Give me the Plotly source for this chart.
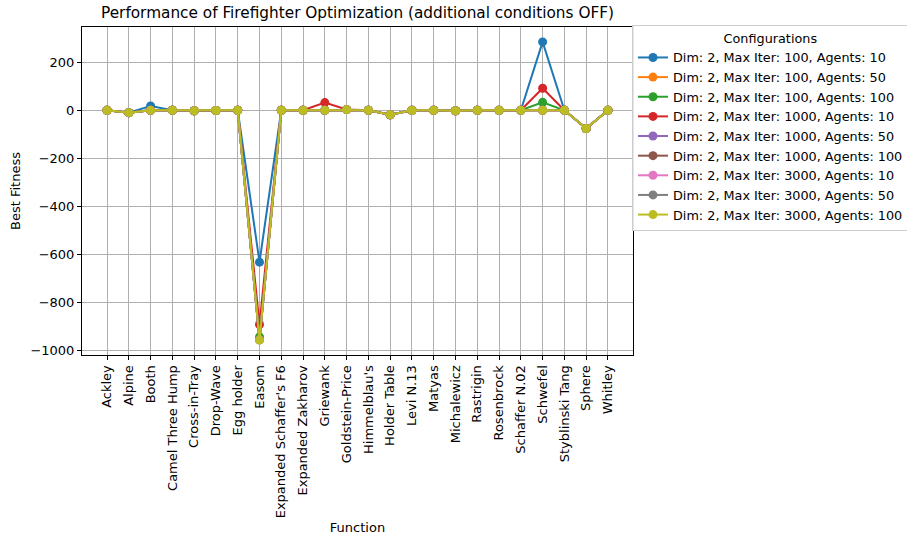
import plotly.graph_objects as go

functions = ["Ackley", "Alpine", "Booth", "Camel Three Hump", "Cross-in-Tray", "Drop-Wave",
             "Egg holder", "Easom", "Expanded Schaffer's F6", "Expanded Zakharov", "Griewank",
             "Goldstein-Price", "Himmelblau's", "Holder Table", "Levi N.13", "Matyas",
             "Michalewicz", "Rastrigin", "Rosenbrock", "Schaffer N.02", "Schwefel",
             "Styblinski Tang", "Sphere", "Whitley"]

config_labels = [
    "Dim: 2, Max Iter: 100, Agents: 10",
    "Dim: 2, Max Iter: 100, Agents: 50",
    "Dim: 2, Max Iter: 100, Agents: 100",
    "Dim: 2, Max Iter: 1000, Agents: 10",
    "Dim: 2, Max Iter: 1000, Agents: 50",
    "Dim: 2, Max Iter: 1000, Agents: 100",
    "Dim: 2, Max Iter: 3000, Agents: 10",
    "Dim: 2, Max Iter: 3000, Agents: 50",
    "Dim: 2, Max Iter: 3000, Agents: 100",
]

it100_ag10 = [0, -10, 18, 0, -2, -1, 0, -633, 0, 0, 0, 3, 0, -19, 0, 0, -2, 0, 0, 0, 285, 0, -76, 0]
it100_ag50 = [0, -10, 0, 0, -2, -1, 0, -955, 0, 0, 0, 3, 0, -19, 0, 0, -2, 0, 0, 0, 0, 0, -76, 0]
it100_ag100 = [0, -10, 0, 0, -2, -1, 0, -945, 0, 0, 0, 3, 0, -19, 0, 0, -2, 0, 0, 0, 33, 0, -76, 0]
it1000_ag10 = [0, -10, 0, 0, -2, -1, 0, -893, 0, 0, 32, 3, 0, -19, 0, 0, -2, 0, 0, 0, 92, 0, -76, 0]
it1000_ag50 = [0, -10, 0, 0, -2, -1, 0, -956, 0, 0, 0, 3, 0, -19, 0, 0, -2, 0, 0, 0, 0, 0, -76, 0]
it1000_ag100 = [0, -10, 0, 0, -2, -1, 0, -957, 0, 0, 0, 3, 0, -19, 0, 0, -2, 0, 0, 0, 0, 0, -76, 0]
it3000_ag10 = [0, -10, 0, 0, -2, -1, 0, -956, 0, 0, 0, 3, 0, -19, 0, 0, -2, 0, 0, 0, 0, 0, -76, 0]
it3000_ag50 = [0, -10, 0, 0, -2, -1, 0, -957, 0, 0, 0, 3, 0, -19, 0, 0, -2, 0, 0, 0, 0, 0, -76, 0]
it3000_ag100 = [0, -10, 0, 0, -2, -1, 0, -958, 0, 0, 0, 3, 0, -19, 0, 0, -2, 0, 0, 0, 0, 0, -76, 0]

series = [it100_ag10, it100_ag50, it100_ag100, it1000_ag10, it1000_ag50,
          it1000_ag100, it3000_ag10, it3000_ag50, it3000_ag100]

colors = ["#1f77b4", "#ff7f0e", "#2ca02c", "#d62728", "#9467bd",
          "#8c564b", "#e377c2", "#7f7f7f", "#bcbd22"]

y_ticks = [200, 0, -200, -400, -600, -800, -1000]

FONT = "DejaVu Sans"

fig = go.Figure()
xs = list(range(len(functions)))
for label, vals, col in zip(config_labels, series, colors):
    fig.add_trace(go.Scatter(
        x=xs, y=vals, mode="lines+markers", name=label,
        line=dict(color=col, width=2),
        marker=dict(color=col, size=9),
    ))

n = len(functions)
allv = [v for s in series for v in s]
ymin, ymax = min(allv), max(allv)
ypad = 0.05 * (ymax - ymin)

fig.update_layout(
    width=907, height=537,
    margin=dict(l=82, r=274, t=27, b=182, autoexpand=False),
    paper_bgcolor="white", plot_bgcolor="white",
    font=dict(family=FONT, size=13, color="black"),
    title=dict(text="Performance of Firefighter Optimization (additional conditions OFF)",
               x=(82 + 633) / 2 / 907, xanchor="center", y=1 - 13 / 537, yanchor="middle",
               font=dict(size=15.3, family=FONT, color="black")),
    showlegend=True,
    legend=dict(
        xref="container", yref="container",
        x=632 / 907, xanchor="left", y=1 - 25 / 537, yanchor="top",
        bgcolor="rgba(255,255,255,0.9)", bordercolor="#cccccc", borderwidth=1,
        font=dict(family=FONT, size=12.8, color="black"),
        title=dict(text="Configurations", side="top center",
                   font=dict(family=FONT, size=12.8, color="black")),
        tracegroupgap=0, itemwidth=30,
    ),
)

fig.update_xaxes(
    range=[-0.05 * (n - 1), (n - 1) * 1.05],
    tickmode="array", tickvals=xs, ticktext=functions, tickangle=-90,
    showgrid=True, gridcolor="#b0b0b0", gridwidth=1,
    showline=True, linecolor="black", linewidth=1, mirror=True,
    ticks="outside", ticklen=4, tickcolor="black", automargin=False,
    title=dict(text="Function", font=dict(size=13, family=FONT), standoff=5),
    zeroline=False,
)
fig.update_yaxes(
    range=[ymin - ypad, ymax + ypad],
    tickmode="array", tickvals=y_ticks, ticktext=[("−" + str(-v)) if v < 0 else str(v) for v in y_ticks],
    showgrid=True, gridcolor="#b0b0b0", gridwidth=1,
    showline=True, linecolor="black", linewidth=1, mirror=True,
    ticks="outside", ticklen=4, tickcolor="black", automargin=False,
    title=dict(text="Best Fitness", font=dict(size=13, family=FONT), standoff=6),
    zeroline=False,
)

fig.write_html("out.html", config={"displayModeBar": False},
               post_script="document.body.style.margin='0';document.body.style.overflow='hidden';")
